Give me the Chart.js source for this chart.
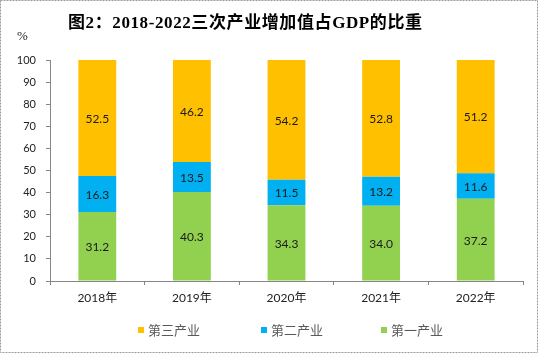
<!DOCTYPE html>
<html><head><meta charset="utf-8">
<script src="https://cdn.jsdelivr.net/npm/chart.js@4"></script>
<style>html,body{margin:0;padding:0;background:#fff}#wrap{width:538px;height:353px;position:relative}</style>
</head><body><div id="wrap"><canvas id="c" width="538" height="353"></canvas></div>
<script>
const titleText = '图2：2018-2022三次产业增加值占GDP的比重';
const unitText = '%';
const categories = ['2018年','2019年','2020年','2021年','2022年'];
const primary = [31.2, 40.3, 34.3, 34.0, 37.2];
const secondary = [16.3, 13.5, 11.5, 13.2, 11.6];
const tertiary = [52.5, 46.2, 54.2, 52.8, 51.2];
const seriesNames = ['第一产业','第二产业','第三产业'];
const yTicks = [0,10,20,30,40,50,60,70,80,90,100];

const colors = ['#92D050','#00B0F0','#FFC000'];
const numFont = 'Lato, "Liberation Sans", "Noto Sans CJK SC", sans-serif';

const framePlugin = {
  id: 'frame',
  beforeDraw(chart){
    const ctx = chart.ctx;
    ctx.save();
    ctx.fillStyle = '#fff';
    ctx.fillRect(0,0,chart.width,chart.height);
    ctx.restore();
  },
  afterDraw(chart){
    const ctx = chart.ctx;
    ctx.save();
    ctx.strokeStyle = '#9a9a9a';
    ctx.setLineDash([2,1]);
    ctx.lineWidth = 1;
    ctx.strokeRect(0.5,0.5,chart.width-1,chart.height-1);
    ctx.setLineDash([]);
    // title
    ctx.fillStyle = '#000';
    ctx.font = 'bold 17px "Liberation Serif", "Noto Sans CJK SC", serif';
    if ('letterSpacing' in ctx) ctx.letterSpacing = '0.6px';
    ctx.textBaseline = 'middle';
    ctx.textAlign = 'left';
    ctx.fillText(titleText, 68, 24);
    if ('letterSpacing' in ctx) ctx.letterSpacing = '0px';
    // unit
    ctx.font = '13px "Liberation Serif", serif';
    ctx.fillStyle = '#222';
    ctx.fillText(unitText, 17, 37);
    ctx.restore();
  }
};

const labelPlugin = {
  id: 'vals',
  afterDatasetsDraw(chart){
    const ctx = chart.ctx;
    ctx.save();
    ctx.font = '12px ' + numFont;
    ctx.fillStyle = '#1a1a1a';
    ctx.textAlign = 'center';
    ctx.textBaseline = 'middle';
    chart.data.datasets.forEach((ds, di) => {
      const meta = chart.getDatasetMeta(di);
      meta.data.forEach((el, i) => {
        const v = ds.data[i];
        ctx.fillText(v.toFixed(1), el.x, (el.y + el.base)/2 + 1);
      });
    });
    ctx.restore();
  }
};

const legendPlugin = {
  id: 'customLegend',
  afterDraw(chart){
    const ctx = chart.ctx;
    ctx.save();
    ctx.font = '13px "Noto Sans CJK SC", sans-serif';
    ctx.textBaseline = 'middle';
    ctx.textAlign = 'left';
    const xs = [138, 261, 381];
    const order = [2,1,0];
    const y = 330;
    order.forEach((di, k) => {
      const ds = chart.data.datasets[di];
      ctx.fillStyle = ds.backgroundColor;
      ctx.fillRect(xs[k], y-3, 6, 6);
      ctx.fillStyle = '#595959';
      ctx.fillText(ds.label, xs[k] + 10, y);
    });
    ctx.restore();
  }
};

new Chart(document.getElementById('c'), {
  type: 'bar',
  data: {
    labels: categories,
    datasets: [
      {label: seriesNames[0], data: primary, backgroundColor: colors[0]},
      {label: seriesNames[1], data: secondary, backgroundColor: colors[1]},
      {label: seriesNames[2], data: tertiary, backgroundColor: colors[2]}
    ]
  },
  options: {
    responsive: false,
    animation: false,
    devicePixelRatio: 1,
    layout: {padding: {left: 0, right: 15, top: 60, bottom: 40}},
    datasets: {bar: {categoryPercentage: 1, barPercentage: 0.4, borderWidth: 0}},
    plugins: {legend: {display: false}, tooltip: {enabled: false}, title: {display: false}},
    scales: {
      x: {
        stacked: true,
        afterFit(s){ s.height = 32; },
        grid: {display: true, drawOnChartArea: false, offset: true, tickLength: 4, color: '#868686'},
        border: {color: '#868686'},
        ticks: {font: {family: numFont, size: 12}, color: '#222', padding: 6}
      },
      y: {
        stacked: true,
        min: 0, max: 100,
        afterFit(s){ s.width = 50; },
        afterBuildTicks(s){ s.ticks = yTicks.map(v => ({value: v})); },
        grid: {display: true, drawOnChartArea: false, tickLength: 4, color: '#868686'},
        border: {color: '#868686'},
        ticks: {font: {family: numFont, size: 11}, color: '#222', padding: 10}
      }
    }
  },
  plugins: [framePlugin, labelPlugin, legendPlugin]
});
</script></body></html>
